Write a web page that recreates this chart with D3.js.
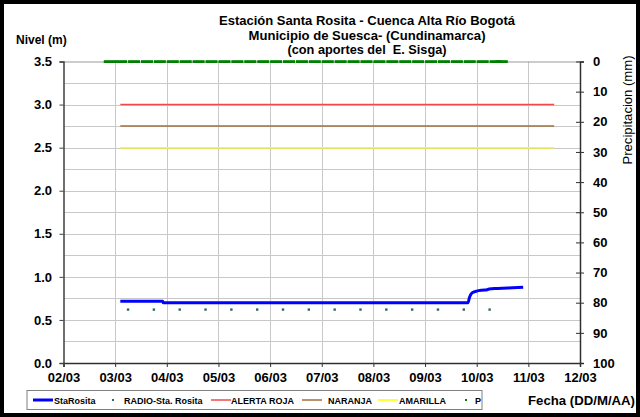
<!DOCTYPE html>
<html><head><meta charset="utf-8">
<script src="https://cdn.jsdelivr.net/npm/d3@7"></script>
<style>body{margin:0;background:#fff}svg{display:block;font-family:"Liberation Sans",Arial,sans-serif}</style>
</head><body><svg id="c" width="640" height="417"></svg>
<script>
// ---- data (x = day of March) ----
const dayTicks = [2,3,4,5,6,7,8,9,10,11,12];
const dayTickLabels = ["02/03","03/03","04/03","05/03","06/03","07/03","08/03","09/03","10/03","11/03","12/03"];
const levelTicks = [0,0.5,1.0,1.5,2.0,2.5,3.0,3.5];
const precipTicks = [0,10,20,30,40,50,60,70,80,90,100];
const staRositaDays   = [3.10, 3.92, 3.93, 9.83, 9.86, 9.89, 9.95, 10.0, 10.1, 10.2, 10.24, 10.4, 10.6, 10.9];
const staRositaValues = [0.717,0.717,0.70, 0.70, 0.76, 0.80, 0.825,0.835,0.845,0.85, 0.86, 0.865,0.87, 0.88];
const radioDays   = [3.25,3.75,4.25,4.75,5.25,5.75,6.25,6.75,7.25,7.75,8.25,8.75,9.25,9.75,10.25];
const radioValues = [0.62,0.62,0.62,0.62,0.62,0.62,0.62,0.62,0.62,0.62,0.62,0.62,0.62,0.62,0.62];
const thresholdDays = [3.1, 11.5];
const alertaRoja = 3.0, naranja = 2.75, amarilla = 2.5;
const pDays = [2.78,3.0,3.25,3.5,3.75,4.0,4.25,4.5,4.75,5.0,5.25,5.5,5.75,6.0,6.25,6.5,6.75,7.0,7.25,7.5,7.75,8.0,8.25,8.5,8.75,9.0,9.25,9.5,9.75,10.0,10.25,10.37];
const pValues = [0,0,0,0,0,0,0,0,0,0,0,0,0,0,0,0,0,0,0,0,0,0,0,0,0,0,0,0,0,0,0,0];
const titleLines = ["Estación Santa Rosita - Cuenca Alta Río Bogotá","Municipio de Suesca- (Cundinamarca)","(con aportes del\u00a0 E. Sisga)"];

const svg = d3.select("#c");
const L=63.5, R=580, T=61.5, B=363;
const x = d3.scaleLinear().domain([2,12]).range([L,R]);
const y = d3.scaleLinear().domain([0,3.5]).range([B,T]);
const yr = d3.scaleLinear().domain([0,100]).range([T,B]);

// outer border
svg.append("rect").attr("x",2).attr("y",2).attr("width",636).attr("height",413)
  .attr("fill","#fff").attr("stroke","#000").attr("stroke-width",4);

// gridlines
const g = svg.append("g").attr("stroke","#c8c8c8").attr("stroke-width",1);
d3.range(1,14).forEach(i=>{ const v=i*0.25; g.append("line").attr("x1",L).attr("x2",R).attr("y1",Math.round(y(v))+0.5).attr("y2",Math.round(y(v))+0.5); });
dayTicks.slice(1,-1).forEach(d=>{ g.append("line").attr("x1",Math.round(x(d))+0.5).attr("x2",Math.round(x(d))+0.5).attr("y1",T).attr("y2",B); });
svg.append("line").attr("x1",L).attr("x2",R).attr("y1",T+0.5).attr("y2",T+0.5).attr("stroke","#999").attr("stroke-width",1.2);

// thresholds
const tl = d3.line().x(d=>x(d[0])).y(d=>y(d[1]));
[[alertaRoja,"#f04848"],[naranja,"#a0703c"],[amarilla,"#ffff00"]].forEach(([v,c])=>{
  svg.append("path").attr("d",tl(thresholdDays.map(d=>[d,v]))).attr("stroke",c).attr("stroke-width",1.5).attr("fill","none");
});

// P series (precip, right axis)
svg.append("g").selectAll("rect").data(pDays).join("rect")
  .attr("x",d=>x(d)).attr("y",(d,i)=>yr(pValues[i])-1.3).attr("width",12).attr("height",2.8).attr("fill","#008000");

// StaRosita line
svg.append("path").attr("d",d3.line().x(d=>x(d[0])).y(d=>y(d[1])).curve(d3.curveMonotoneX)(staRositaDays.map((d,i)=>[d,staRositaValues[i]])))
  .attr("fill","none").attr("stroke","#0000ff").attr("stroke-width",3);

// Radio dots
svg.append("g").selectAll("rect").data(radioDays).join("rect")
  .attr("x",d=>x(d)-1.2).attr("y",(d,i)=>y(radioValues[i])-1.2).attr("width",2.4).attr("height",2.4).attr("fill","#336666");

// axes
const fontAttrs = s=>s.selectAll("text").attr("font-family","Liberation Sans, Arial, sans-serif").attr("font-weight","bold").attr("font-size",13).attr("fill","#000");
const ax = svg.append("g").attr("transform",`translate(0,${B})`)
  .call(d3.axisBottom(x).tickValues(dayTicks).tickFormat((d,i)=>dayTickLabels[i]).tickSize(4).tickPadding(5.5));
ax.select(".domain").attr("stroke","#303030").attr("stroke-width",1.5);
ax.selectAll(".tick line").attr("stroke","#303030");
fontAttrs(ax);
const ay = svg.append("g").attr("transform",`translate(${L},0)`)
  .call(d3.axisLeft(y).tickValues(levelTicks).tickFormat(d3.format(".1f")).tickSize(4).tickPadding(7.5));
ay.select(".domain").attr("stroke","#404040").attr("stroke-width",1.5);
ay.selectAll(".tick line").attr("stroke","#404040");
fontAttrs(ay);
const ar = svg.append("g").attr("transform",`translate(${R},0)`)
  .call(d3.axisRight(yr).tickValues(precipTicks).tickSize(4).tickPadding(9));
ar.select(".domain").attr("stroke","#303030").attr("stroke-width",1.5);
ar.selectAll(".tick line").attr("stroke","#303030").attr("x1",-4).attr("x2",4);
fontAttrs(ar);

// titles
const titleW = [296, 237, 159];
titleLines.forEach((t,i)=>{
  svg.append("text").attr("x",367).attr("y",25+i*14.5).attr("text-anchor","middle")
    .attr("font-weight","bold").attr("font-size",13)
    .attr("textLength",titleW[i]).attr("lengthAdjust","spacingAndGlyphs").text(t);
});
svg.append("text").attr("x",16).attr("y",44).attr("font-weight","bold").attr("font-size",12).text("Nivel (m)");
svg.append("text").attr("transform","translate(632,110) rotate(-90)").attr("text-anchor","middle")
  .attr("font-size",13).attr("textLength",109).attr("lengthAdjust","spacingAndGlyphs").text("Precipitacion (mm)");
svg.append("text").attr("x",528).attr("y",405).attr("font-weight","bold").attr("font-size",13)
  .attr("textLength",107).attr("lengthAdjust","spacingAndGlyphs").text("Fecha (DD/M/AA)");

// legend
const lg = svg.append("g");
lg.append("rect").attr("x",27).attr("y",390.5).attr("width",455).attr("height",19).attr("fill","#fff").attr("stroke","#808080");
const items = [
  {type:"line",c:"#0000ff",w:3,x:33,tx:54,label:"StaRosita"},
  {type:"dot",c:"#336666",x:113,tx:124,label:"RADIO-Sta. Rosita"},
  {type:"line",c:"#f04848",w:1.5,x:211,tx:231,label:"ALERTA ROJA"},
  {type:"line",c:"#a0703c",w:1.5,x:302,tx:328,label:"NARANJA"},
  {type:"line",c:"#ffff00",w:1.5,x:378,tx:399,label:"AMARILLA"},
  {type:"dot",c:"#008000",x:466,tx:475,label:"P"}
];
items.forEach(it=>{
  if(it.type==="line"){
    lg.append("line").attr("x1",it.x).attr("x2",it.x+20).attr("y1",400).attr("y2",400).attr("stroke",it.c).attr("stroke-width",it.w);
  } else {
    lg.append("rect").attr("x",it.x-1).attr("y",399).attr("width",2).attr("height",2).attr("fill",it.c);
  }
  lg.append("text").attr("x",it.tx).attr("y",403.5).attr("font-size",9).attr("font-weight","bold").text(it.label);
});
</script></body></html>
